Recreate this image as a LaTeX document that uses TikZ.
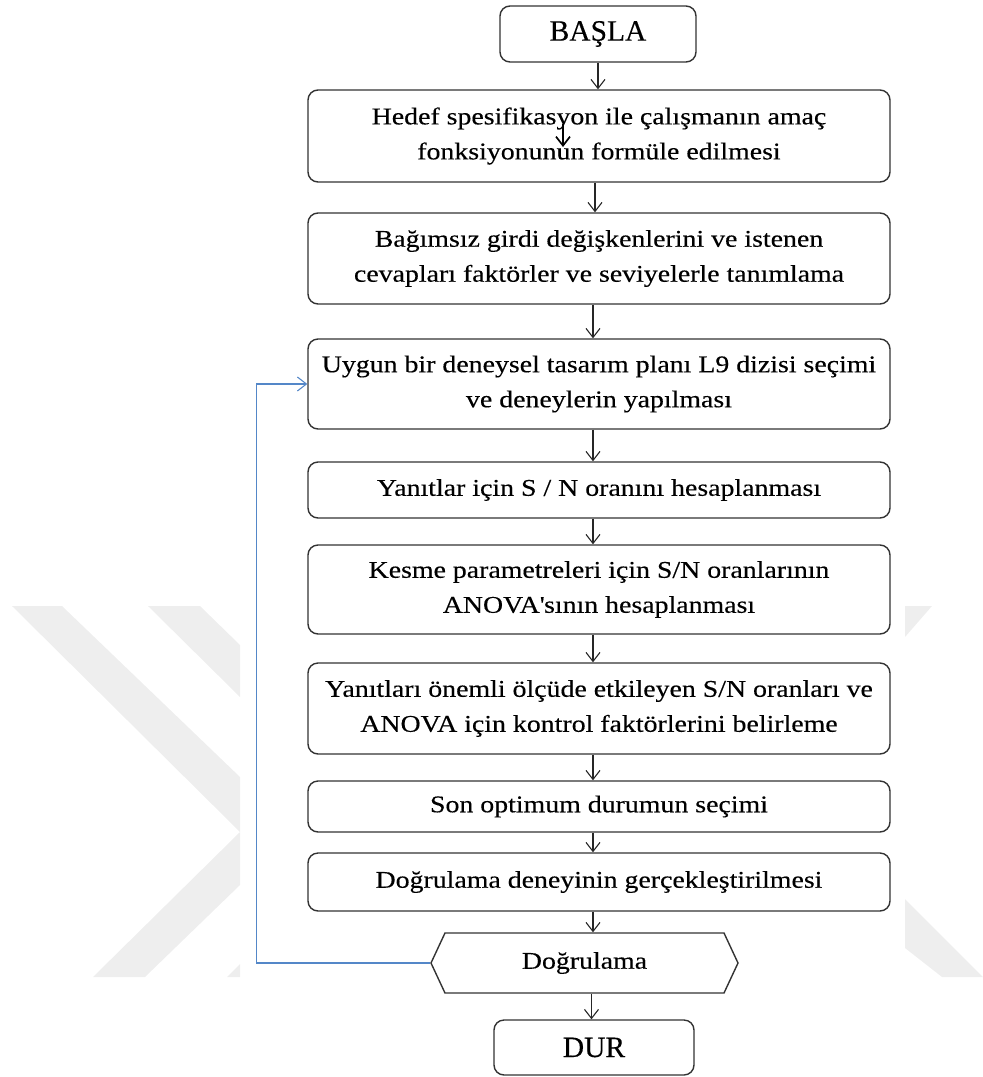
\documentclass[tikz,border=0pt]{standalone}
\usepackage{fontspec}
\setmainfont{Liberation Serif}[FakeStretch=1.16,FakeBold=0.3]
\newfontfamily\wideserif{Liberation Serif}[FakeBold=0.3]
\usetikzlibrary{positioning}
\usetikzlibrary{arrows.meta}
\usetikzlibrary{shapes.symbols}
\definecolor{backblue}{RGB}{84,135,200}
\definecolor{markgray}{RGB}{238,238,238}

\tikzset{
  stepbox/.style={draw=black!80, line width=1.4pt, rounded corners=10pt, fill=white,
    align=center, minimum width=582pt, inner sep=0pt,
    font=\fontsize{24}{35}\selectfont},
  endbox/.style={draw=black!80, line width=1.4pt, rounded corners=10pt, fill=white,
    minimum width=196pt, minimum height=56pt, inner sep=0pt,
    font=\wideserif\fontsize{29.5}{35}\selectfont},
  checkbox/.style={signal, signal to=west and east, signal pointer angle=130,
    draw=black!80, line width=1.4pt, fill=white, minimum width=307pt,
    minimum height=60pt, inner sep=0pt, font=\fontsize{24}{35}\selectfont},
  arr/.style={-{Straight Barb[length=9pt,width=14pt]}, line width=1.1pt, black!85},
  backline/.style={-{Straight Barb[length=9pt,width=14pt]}, line width=1.1pt, backblue},
}

\begin{document}
\begin{tikzpicture}[x=1pt,y=-1pt]
\useasboundingbox (0,0) rectangle (983,1077);

% watermark
\fill[markgray] (12,606)--(62,606)--(240,777)--(240,885)--(145,977)--(93,977)--(240,832)--cycle;
\fill[markgray] (148,606)--(200,606)--(240,645)--(240,697)--cycle;
\fill[markgray] (227,977)--(240,977)--(240,964)--cycle;
\fill[markgray] (905,606)--(932,606)--(905,637)--cycle;
\fill[markgray] (905,899)--(983,977)--(942,977)--(905,948)--cycle;

% steps
\node[endbox] (basla) at (598,34) {BAŞLA};
\node[stepbox, minimum height=92pt] (hedef) at (599,136)
  {Hedef spesifikasyon ile çalışmanın amaç\\fonksiyonunun formüle edilmesi};
\node[stepbox, minimum height=91pt] (bagimsiz) at (599,258.5)
  {Bağımsız girdi değişkenlerini ve istenen\\cevapları faktörler ve seviyelerle tanımlama};
\node[stepbox, minimum height=90pt] (uygun) at (599,384)
  {Uygun bir deneysel tasarım planı L9 dizisi seçimi\\ve deneylerin yapılması};
\node[stepbox, minimum height=56pt] (yanit) at (599,490)
  {Yanıtlar için S / N oranını hesaplanması};
\node[stepbox, minimum height=89pt] (kesme) at (599,589.5)
  {Kesme parametreleri için S/N oranlarının\\ANOVA\textquotesingle sının hesaplanması};
\node[stepbox, minimum height=91pt] (onemli) at (599,708.5)
  {Yanıtları önemli ölçüde etkileyen S/N oranları ve\\ANOVA için kontrol faktörlerini belirleme};
\node[stepbox, minimum height=51pt] (son) at (599,806.5)
  {Son optimum durumun seçimi};
\node[stepbox, minimum height=58pt] (deney) at (599,882)
  {Doğrulama deneyinin gerçekleştirilmesi};
\node[checkbox] (karar) at (584.5,963) {Doğrulama};
\node[endbox, minimum width=200pt, minimum height=55pt] (dur) at (594,1047.5) {DUR};

% arrows
\draw[arr] (basla.south) -- (basla.south |- hedef.north);
\draw[arr] ([xshift=-4pt]hedef.south) -- ([xshift=-4pt]hedef.south |- bagimsiz.north);
\draw[arr] ([xshift=-6pt]bagimsiz.south) -- ([xshift=-6pt]bagimsiz.south |- uygun.north);
\draw[arr] ([xshift=-6pt]uygun.south) -- ([xshift=-6pt]uygun.south |- yanit.north);
\draw[arr] ([xshift=-6pt]yanit.south) -- ([xshift=-6pt]yanit.south |- kesme.north);
\draw[arr] ([xshift=-6pt]kesme.south) -- ([xshift=-6pt]kesme.south |- onemli.north);
\draw[arr] ([xshift=-6pt]onemli.south) -- ([xshift=-6pt]onemli.south |- son.north);
\draw[arr] ([xshift=-6pt]son.south) -- ([xshift=-6pt]son.south |- deney.north);
\draw[arr] ([xshift=-6pt]deney.south) -- ([xshift=-6pt]deney.south |- karar.north);
\draw[arr] ([xshift=7pt]karar.south) -- ([xshift=7pt]karar.south |- dur.north);

% loop back
\coordinate (turn) at (256.5,0);
\draw[backline] (karar.west) -- (karar.west -| turn) |- (uygun.west);

% stray arrow in the first box
\coordinate (stray top) at (563,124);
\coordinate (stray end) at (563,147);
\draw[arr, line width=1.7pt, black] (stray top) -- (stray end);

\end{tikzpicture}
\end{document}
